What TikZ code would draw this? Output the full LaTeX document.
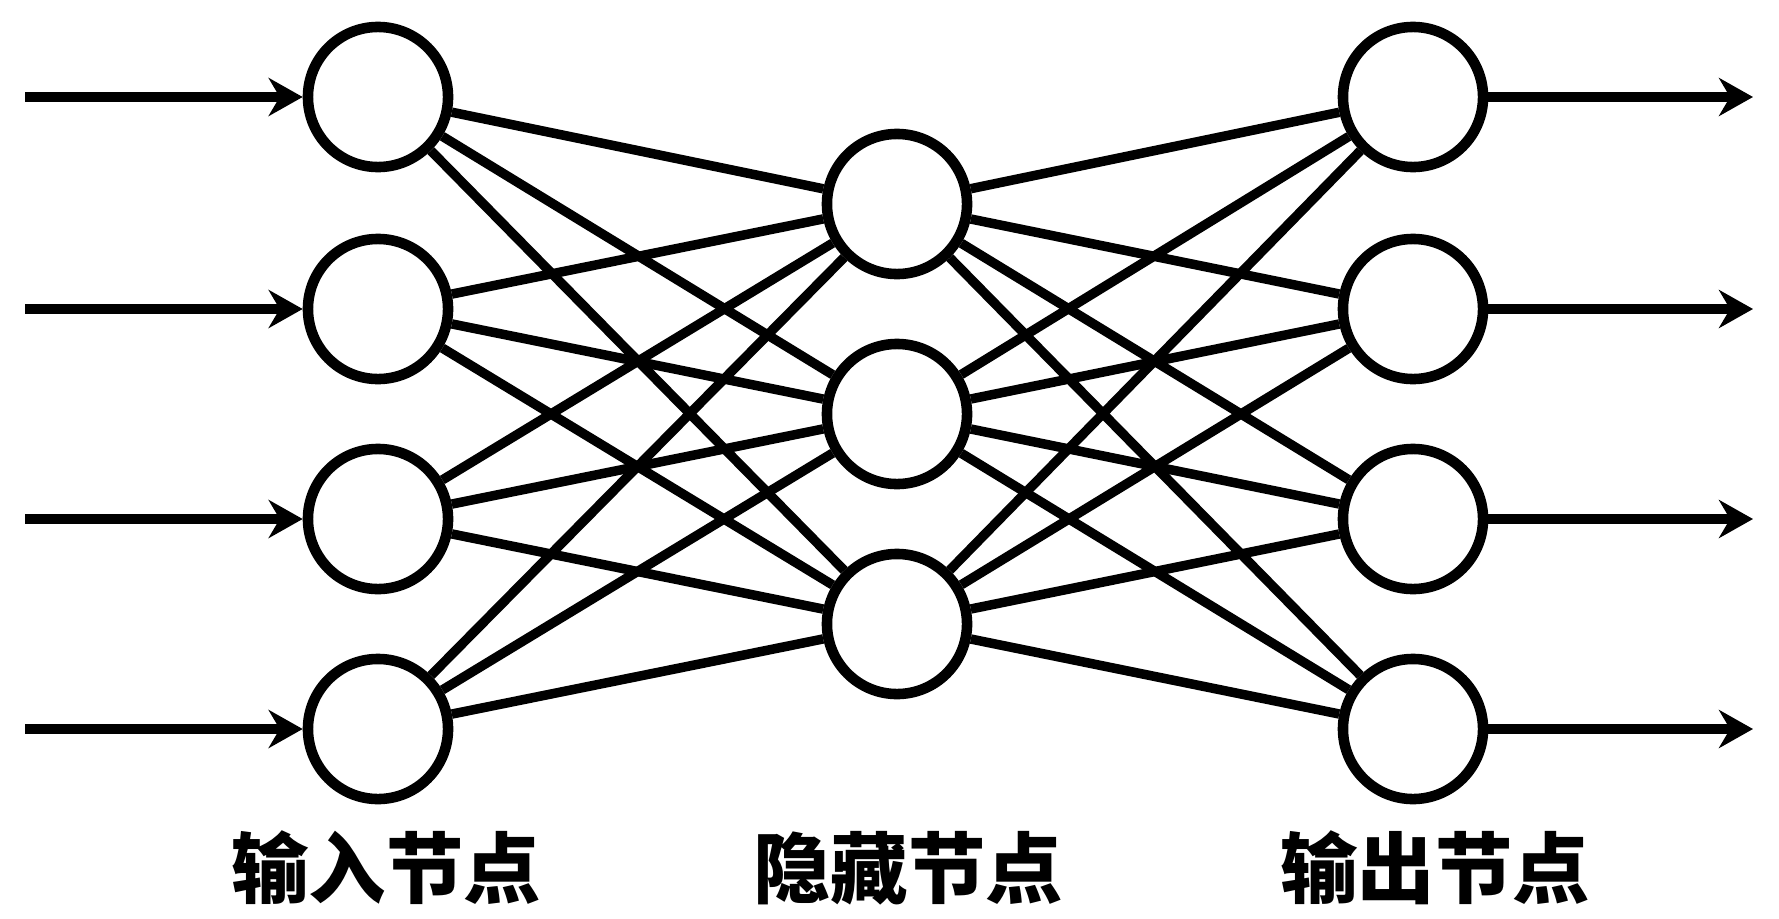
\documentclass[tikz,border=0pt]{standalone}
\usepackage{fontspec}
\newfontfamily\cjk{Noto Sans CJK SC}
\usetikzlibrary{arrows.meta}
\begin{document}
\begin{tikzpicture}[x=0.01cm,y=-0.01cm,
    neuron/.style={draw,circle,line width=3pt,minimum size=1.4cm,inner sep=0pt},
    link/.style={line width=2.7pt},
    flow/.style={line width=3pt,-{Stealth[length=0.34cm,width=0.38cm]}},
    caption/.style={font=\cjk\bfseries\fontsize{22}{22}\selectfont}]
    \useasboundingbox (0,0) rectangle (1779,918);
    % input layer
    \node[neuron] (in1) at (378,97) {};
    \node[neuron] (in2) at (378,309) {};
    \node[neuron] (in3) at (378,519) {};
    \node[neuron] (in4) at (378,729) {};
    % hidden layer
    \node[neuron] (hid1) at (897,204) {};
    \node[neuron] (hid2) at (897,414) {};
    \node[neuron] (hid3) at (897,624) {};
    % output layer
    \node[neuron] (out1) at (1413,97) {};
    \node[neuron] (out2) at (1413,309) {};
    \node[neuron] (out3) at (1413,519) {};
    \node[neuron] (out4) at (1413,729) {};
    % free ends of the arrows
    \coordinate (src1) at (25,97);
    \coordinate (src2) at (25,309);
    \coordinate (src3) at (25,519);
    \coordinate (src4) at (25,729);
    \coordinate (dst1) at (1753,97);
    \coordinate (dst2) at (1753,309);
    \coordinate (dst3) at (1753,519);
    \coordinate (dst4) at (1753,729);
    \draw[flow] (src1) -- (in1);
    \draw[flow] (src2) -- (in2);
    \draw[flow] (src3) -- (in3);
    \draw[flow] (src4) -- (in4);
    \draw[flow] (out1) -- (dst1);
    \draw[flow] (out2) -- (dst2);
    \draw[flow] (out3) -- (dst3);
    \draw[flow] (out4) -- (dst4);
    % weights
    \draw[link] (in1) -- (hid1) (in1) -- (hid2) (in1) -- (hid3);
    \draw[link] (in2) -- (hid1) (in2) -- (hid2) (in2) -- (hid3);
    \draw[link] (in3) -- (hid1) (in3) -- (hid2) (in3) -- (hid3);
    \draw[link] (in4) -- (hid1) (in4) -- (hid2) (in4) -- (hid3);
    \draw[link] (hid1) -- (out1) (hid1) -- (out2) (hid1) -- (out3) (hid1) -- (out4);
    \draw[link] (hid2) -- (out1) (hid2) -- (out2) (hid2) -- (out3) (hid2) -- (out4);
    \draw[link] (hid3) -- (out1) (hid3) -- (out2) (hid3) -- (out3) (hid3) -- (out4);
    % captions
    \node[caption] (capin) at (386,868) {输入节点};
    \node[caption] (caphid) at (908,868) {隐藏节点};
    \node[caption] (capout) at (1435,868) {输出节点};
\end{tikzpicture}
\end{document}
